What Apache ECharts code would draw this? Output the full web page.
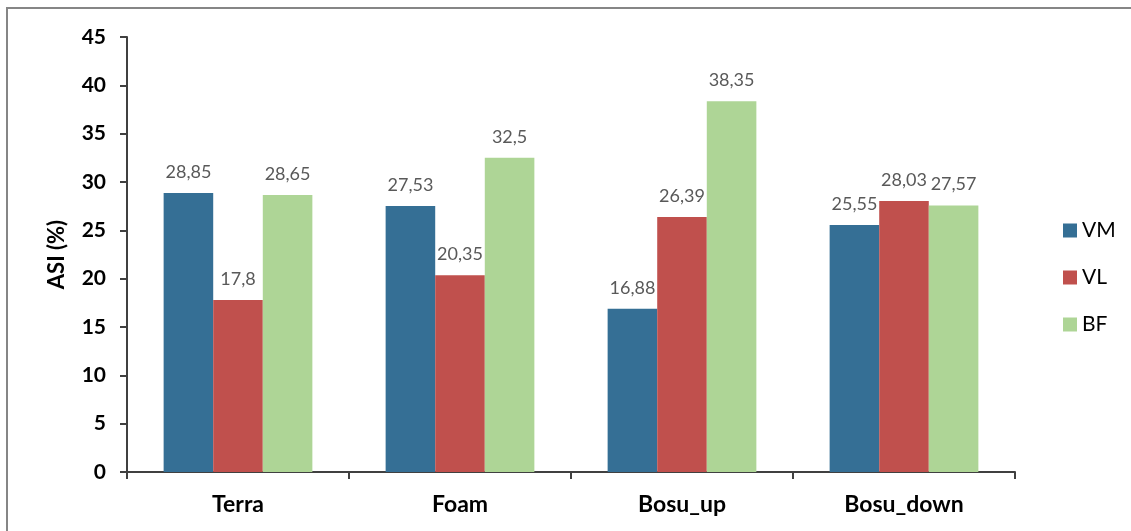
<!DOCTYPE html>
<html>
<head>
<meta charset="utf-8">
<script src="https://cdn.jsdelivr.net/npm/echarts@6/dist/echarts.min.js"></script>
<style>
  html, body { margin: 0; padding: 0; background: #fff; }
  #chart { width: 1131px; height: 531px; }
</style>
</head>
<body>
<div id="chart"></div>
<script>
// Surfaces and muscle series
const categories = ['Terra', 'Foam', 'Bosu_up', 'Bosu_down'];
const seriesNames = ['VM', 'VL', 'BF'];
const vmValues = [28.85, 27.53, 16.88, 25.55];
const vlValues = [17.8, 20.35, 26.39, 28.03];
const bfValues = [28.65, 32.5, 38.35, 27.57];
const yTicks = [0, 5, 10, 15, 20, 25, 30, 35, 40, 45];

const colors = ['#356F95', '#C0504D', '#AED596'];
const fontFamily = 'Lato, "Open Sans", "Liberation Sans", sans-serif';

const chart = echarts.init(document.getElementById('chart'));

// decimal comma labels
function fmt(v) { return String(v).replace('.', ','); }

const seriesData = [vmValues, vlValues, bfValues];

chart.setOption({
  animation: false,
  textStyle: { fontFamily: fontFamily },
  graphic: [{
    type: 'rect',
    shape: { x: 7, y: 8, width: 1200, height: 600 },
    style: { fill: 'none', stroke: '#868686', lineWidth: 2 },
    silent: true
  }],
  grid: { left: 127, right: 116, top: 37, bottom: 59 },
  legend: {
    orient: 'vertical',
    left: 1058,
    top: 215,
    itemWidth: 14,
    itemHeight: 14,
    itemGap: 26,
    icon: 'rect',
    data: seriesNames,
    textStyle: { fontSize: 21, color: '#000', fontFamily: fontFamily }
  },
  xAxis: {
    type: 'category',
    data: categories,
    axisLine: { lineStyle: { color: '#404040', width: 2 } },
    axisTick: { show: true, length: 7, lineStyle: { color: '#404040', width: 2 } },
    axisLabel: { fontSize: 23, fontWeight: 'bold', color: '#000', margin: 21 }
  },
  yAxis: {
    type: 'value',
    min: yTicks[0],
    max: yTicks[yTicks.length - 1],
    interval: 5,
    name: 'ASI (%)',
    nameLocation: 'middle',
    nameGap: 59,
    nameRotate: 90,
    nameTextStyle: { fontSize: 22, fontWeight: 'bold', color: '#000' },
    axisLine: { show: true, lineStyle: { color: '#404040', width: 2 } },
    axisTick: { show: true, length: 7, lineStyle: { color: '#404040', width: 2 } },
    axisLabel: { fontSize: 21, fontWeight: 'bold', color: '#000', margin: 21 },
    splitLine: { show: false }
  },
  series: seriesNames.map((name, i) => ({
    name: name,
    type: 'bar',
    data: seriesData[i],
    barGap: '0%',
    barCategoryGap: '33%',
    itemStyle: { color: colors[i] },
    label: {
      show: true,
      position: 'top',
      distance: 12,
      fontSize: 18,
      color: '#595959',
      formatter: p => fmt(p.value)
    }
  }))
});
</script>
</body>
</html>
